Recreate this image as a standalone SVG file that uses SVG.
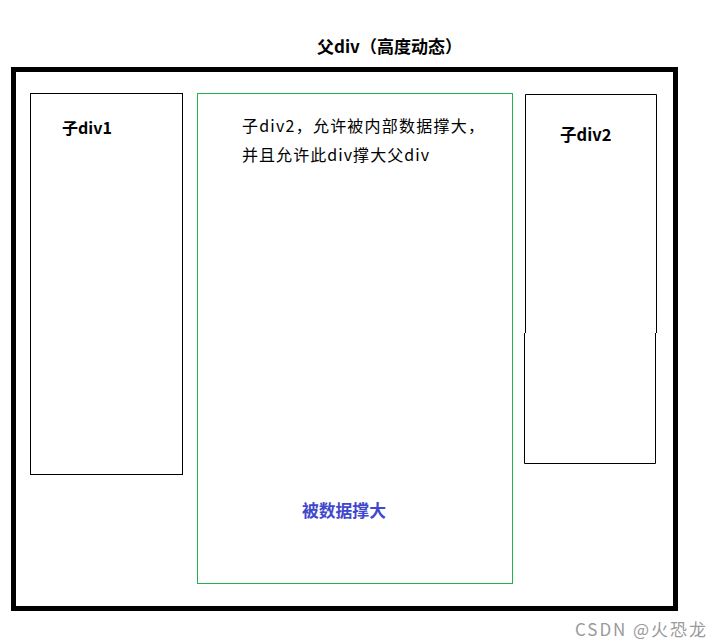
<svg xmlns="http://www.w3.org/2000/svg" width="721" height="644" viewBox="0 0 721 644">
<style>
text{font-family:"Microsoft YaHei","Noto Sans CJK SC","Noto Sans",sans-serif;font-size:16px;fill:#000}
.b{font-weight:bold}
.box{fill:none;stroke:#000;stroke-width:1}
</style>
<rect width="721" height="644" fill="#fff"/>
<g id="title"><text class="b" x="317" y="53" style="font-size:17px">父div（高度动态）</text></g>
<g id="parent"><rect x="13.5" y="69.5" width="662" height="539" fill="none" stroke="#000" stroke-width="5"/></g>
<g id="child1">
<rect class="box" x="30.5" y="93.5" width="152" height="381"/>
<text class="b" x="62" y="134">子div1</text>
</g>
<g id="child-middle">
<rect x="197.5" y="93.5" width="315" height="490" fill="none" stroke="#22b14c" stroke-width="1"/>
<text x="242" y="132" textLength="242" lengthAdjust="spacing">子div2，允许被内部数据撑大，</text>
<text x="242" y="161" textLength="187" lengthAdjust="spacing">并且允许此div撑大父div</text>
<text class="b" x="302" y="517" style="fill:#3f48cc;font-size:16.8px">被数据撑大</text>
</g>
<g id="child2">
<path class="box" d="M525.5,333 V94.5 H656.5 V333 M524.5,333 V463.5 H655.5 V333"/>
<text class="b" x="560" y="141" style="font-size:16.5px">子div2</text>
</g>
<g id="connectors"></g>
<text x="575" y="636" textLength="131" lengthAdjust="spacing" style="fill:#9a9a9a;font-size:17px">CSDN @火恐龙</text>
</svg>
